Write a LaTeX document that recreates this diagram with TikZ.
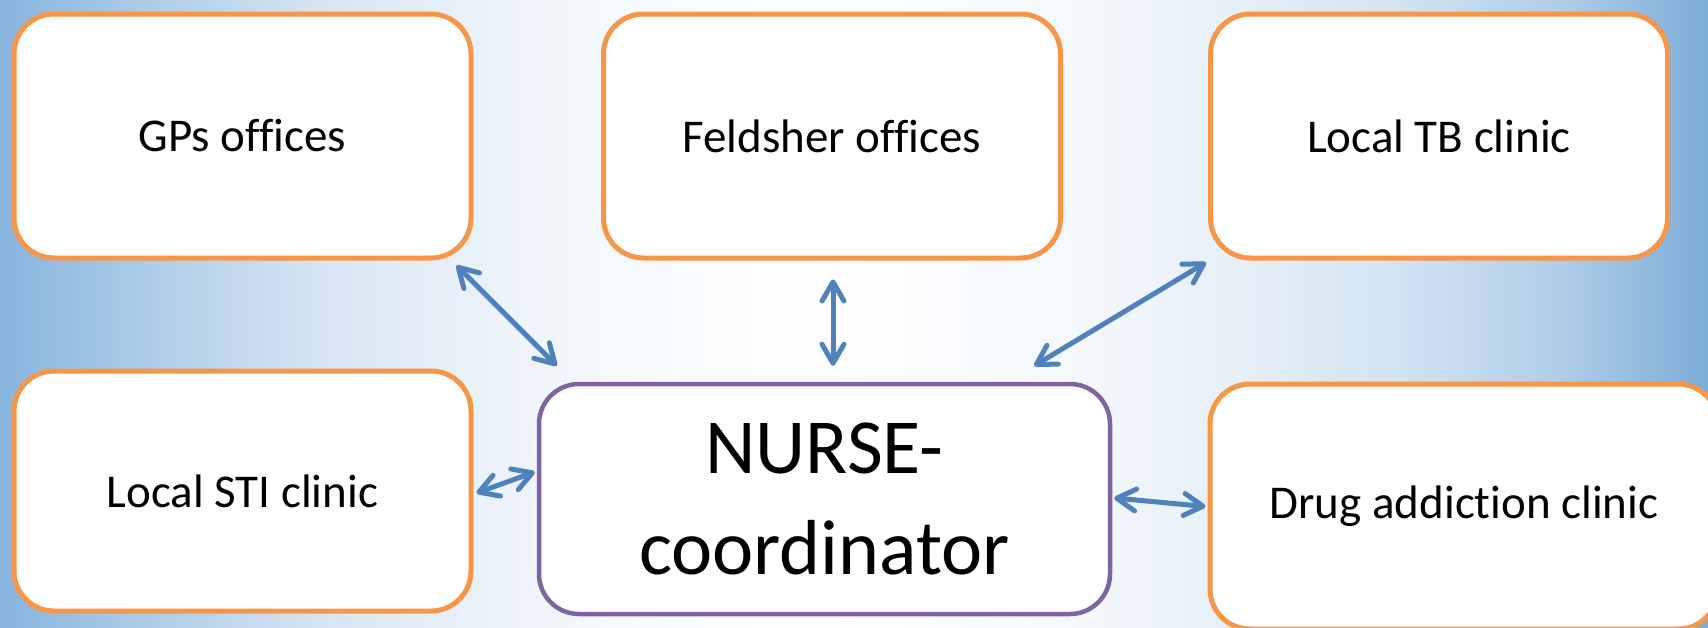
\documentclass[tikz,border=0pt]{standalone}
\usepackage{fontspec}
\setmainfont{Carlito}[Ligatures={NoCommon}]
\usetikzlibrary{arrows.meta,calc}
\definecolor{boxorange}{RGB}{247,150,70}
\definecolor{boxpurple}{RGB}{128,100,162}
\definecolor{arrowblue}{RGB}{79,129,189}
\pgfdeclarehorizontalshading{bgshade}{100bp}{%
rgb(0bp)=(0.53,0.71,0.87);
rgb(25bp)=(0.53,0.71,0.87);
rgb(31.4bp)=(0.745,0.843,0.925);
rgb(34.6bp)=(0.843,0.90,0.953);
rgb(37.8bp)=(0.90,0.937,0.97);
rgb(42.6bp)=(0.96,0.973,0.988);
rgb(45.7bp)=(0.98,0.988,0.996);
rgb(50bp)=(0.99,0.995,1);
rgb(56.4bp)=(0.96,0.973,0.988);
rgb(61.2bp)=(0.90,0.937,0.97);
rgb(66bp)=(0.823,0.89,0.949);
rgb(70.7bp)=(0.686,0.804,0.91);
rgb(75bp)=(0.49,0.675,0.847);
rgb(100bp)=(0.49,0.675,0.847)}
\tikzset{
  obox/.style={draw=boxorange, line width=5pt, fill=white, rounded corners=40pt,
    inner sep=0pt, align=center, font=\fontsize{47}{56}\selectfont},
  pbox/.style={draw=boxpurple, line width=4.5pt, fill=white, rounded corners=40pt,
    inner sep=0pt, align=center, font=\fontsize{78}{101}\selectfont},
  link/.style={draw=arrowblue, line width=5pt, line cap=round,
    {Straight Barb[length=19pt,width=22pt,line cap=round,line join=round]}-{Straight Barb[length=19pt,width=22pt,line cap=round,line join=round]}}
}
\begin{document}
\begin{tikzpicture}[x=1pt,y=-1pt]
\useasboundingbox (0,0) rectangle (1708,627);
\shade[shading=bgshade] (0,0) rectangle (1708,627);
\node[obox, minimum width=457pt, minimum height=244pt] (gps) at (242.5,136) {GPs offices};
\node[obox, minimum width=457pt, minimum height=244pt] (feld) at (832,136) {Feldsher offices};
\node[obox, minimum width=457pt, minimum height=244pt] (tb) at (1439,136) {Local TB clinic};
\node[obox, minimum width=457pt, minimum height=240pt] (sti) at (242.5,491) {Local STI clinic};
\node[pbox, minimum width=571pt, minimum height=230pt] (nurse) at (824.5,499) {NURSE-\\coordinator};
\node[obox, minimum width=508pt, minimum height=245pt] (drug) at (1464,506.5) {Drug addiction clinic};
\draw[link] ($(gps.south east)+(-17,5)$) -- ($(nurse.north west)+(20,-16)$);
\draw[link] ($(feld.south)+(1,19)$) -- ($(feld.south |- nurse.north)+(1,-16)$);
\draw[link] ($(tb.south west)+(-2,2)$) -- ($(nurse.north east)+(-78,-16)$);
\draw[link] ($(sti.east)+(3,2)$) -- ($(nurse.west)+(-2,-27)$);
\draw[link] ($(nurse.east)+(2,-1)$) -- ($(drug.west)+(-2,0)$);
\end{tikzpicture}
\end{document}
